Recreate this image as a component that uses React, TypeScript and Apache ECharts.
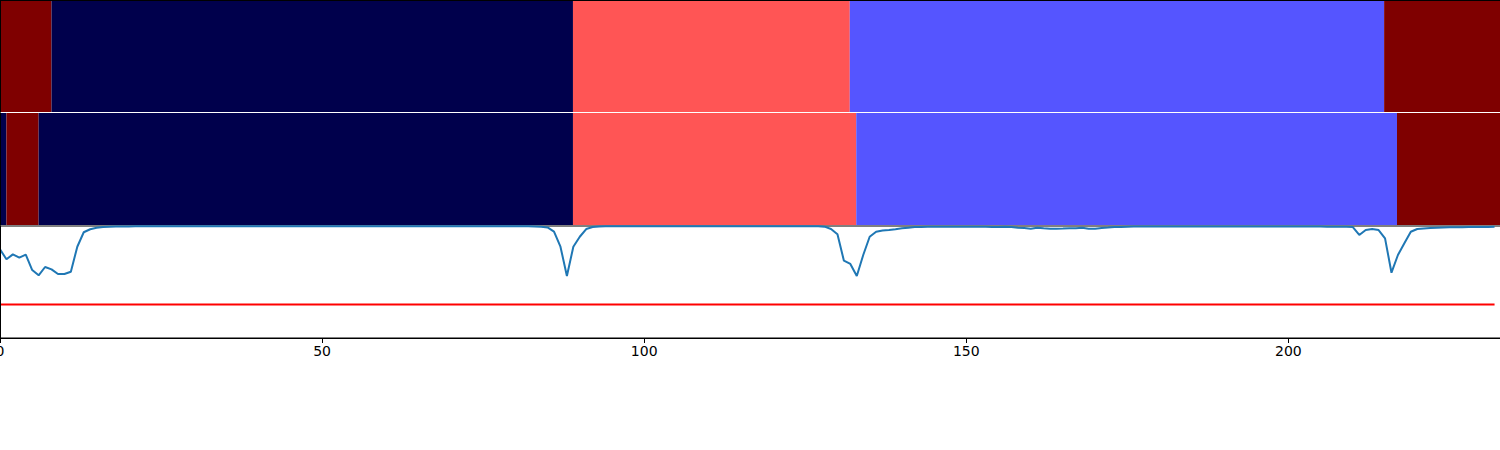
import React, { useEffect, useRef } from "react";
import * as echarts from "echarts";

// ---- data ----
const classColors = ["#00004c", "#5555ff", "#ff5555", "#7f0000"];

const row1Starts = [0, 8, 89, 132, 215];
const row1Ends = [8, 89, 132, 215, 233];
const row1Classes = [3, 0, 2, 1, 3];

const row2Starts = [0, 1, 6, 89, 133, 217];
const row2Ends = [1, 6, 89, 133, 217, 233];
const row2Classes = [0, 3, 0, 2, 1, 3];

const scoreValues = [
  0.792, 0.703, 0.747, 0.717, 0.744, 0.607, 0.56, 0.634, 0.613, 0.571,
  0.571, 0.592, 0.815, 0.944, 0.971, 0.985, 0.99, 0.993, 0.995, 0.996,
  0.996, 0.997, 0.997, 0.997, 0.997, 0.997, 0.997, 0.997, 0.997, 0.997,
  0.997, 0.998, 0.998, 0.998, 0.998, 0.998, 0.998, 0.998, 0.998, 0.998,
  0.998, 0.998, 0.998, 0.998, 0.998, 0.998, 0.998, 0.998, 0.998, 0.998,
  0.998, 0.998, 0.998, 0.998, 0.998, 0.998, 0.998, 0.998, 0.998, 0.998,
  0.998, 0.998, 0.998, 0.998, 0.998, 0.998, 0.998, 0.998, 0.998, 0.998,
  0.998, 0.998, 0.998, 0.998, 0.998, 0.998, 0.998, 0.998, 0.998, 0.998,
  0.998, 0.998, 0.997, 0.996, 0.994, 0.987, 0.95, 0.815, 0.554, 0.815,
  0.904, 0.973, 0.991, 0.996, 0.997, 0.998, 0.998, 0.998, 0.998, 0.998,
  0.998, 0.998, 0.998, 0.998, 0.998, 0.998, 0.998, 0.998, 0.998, 0.998,
  0.998, 0.998, 0.998, 0.998, 0.998, 0.998, 0.998, 0.998, 0.998, 0.998,
  0.998, 0.998, 0.998, 0.998, 0.998, 0.998, 0.998, 0.997, 0.994, 0.973,
  0.926, 0.69, 0.661, 0.554, 0.741, 0.904, 0.949, 0.96, 0.964, 0.971,
  0.979, 0.985, 0.99, 0.992, 0.993, 0.994, 0.994, 0.994, 0.994, 0.994,
  0.994, 0.994, 0.993, 0.993, 0.992, 0.992, 0.993, 0.99, 0.985, 0.982,
  0.975, 0.985, 0.98, 0.976, 0.975, 0.977, 0.98, 0.98, 0.984, 0.975,
  0.976, 0.983, 0.986, 0.99, 0.992, 0.994, 0.995, 0.995, 0.995, 0.995,
  0.996, 0.996, 0.996, 0.996, 0.996, 0.996, 0.996, 0.996, 0.996, 0.996,
  0.996, 0.996, 0.996, 0.996, 0.996, 0.996, 0.996, 0.996, 0.996, 0.996,
  0.996, 0.996, 0.996, 0.995, 0.995, 0.995, 0.994, 0.994, 0.994, 0.993,
  0.991, 0.92, 0.964, 0.973, 0.964, 0.89, 0.583, 0.741, 0.846, 0.949,
  0.973, 0.978, 0.982, 0.985, 0.987, 0.988, 0.988, 0.989, 0.99, 0.991,
  0.992, 0.992, 0.993,
];

const threshold = 0.3;
const xMin = 0;
const xMax = 233;
const xTickStep = 50;

function segData(starts: number[], ends: number[], classes: number[]) {
  return starts.map((s, i) => [s, ends[i], classes[i]]);
}

function renderSegment(_params: any, api: any) {
  const s = api.value(0);
  const e = api.value(1);
  const c = api.value(2);
  const p0 = api.coord([s, 1]);
  const p1 = api.coord([e, 0]);
  return {
    type: "rect",
    shape: { x: p0[0], y: p0[1], width: p1[0] - p0[0], height: p1[1] - p0[1] },
    style: { fill: classColors[c] },
  };
}

export default function App() {
  const ref = useRef<HTMLDivElement>(null);

  useEffect(() => {
    if (!ref.current) return;
    const chart = echarts.init(ref.current, undefined, { renderer: "svg" });
    const hiddenX = {
      type: "value",
      min: xMin,
      max: xMax,
      axisLabel: { show: false },
      axisTick: { show: false },
      splitLine: { show: false },
    };
    const lineLast = scoreValues.length - 1;
    chart.setOption({
      animation: false,
      backgroundColor: "#ffffff",
      grid: [
        { left: 0, top: 0, width: 1500, height: 112, outerBoundsMode: "none", containLabel: false },
        { left: 0, top: 113, width: 1500, height: 112, outerBoundsMode: "none", containLabel: false },
        {
          left: 0,
          top: 226,
          width: 1501,
          height: 112,
          show: true,
          borderColor: "#000",
          borderWidth: 1,
          backgroundColor: "transparent",
          outerBoundsMode: "none",
          containLabel: false,
        },
      ],
      xAxis: [
        {
          ...hiddenX,
          gridIndex: 0,
          position: "top",
          z: 5,
          axisLine: { show: true, onZero: false, lineStyle: { color: "#000", width: 1 } },
        },
        { ...hiddenX, gridIndex: 1, axisLine: { show: false } },
        {
          type: "value",
          gridIndex: 2,
          min: xMin,
          max: xMax,
          interval: xTickStep,
          position: "bottom",
          z: 5,
          axisLine: { show: true, onZero: false, lineStyle: { color: "#000", width: 1 } },
          axisTick: { show: true, length: 5, lineStyle: { color: "#000", width: 1 } },
          axisLabel: {
            show: true,
            color: "#000",
            fontSize: 14,
            fontFamily: "DejaVu Sans",
            margin: 6,
            showMaxLabel: false,
            formatter: (v: number) => (v % xTickStep === 0 ? String(v) : ""),
          },
          splitLine: { show: false },
        },
      ],
      yAxis: [0, 1, 2].map((g) => ({
        type: "value",
        gridIndex: g,
        min: 0,
        max: 1,
        z: 5,
        axisLine: { show: true, onZero: false, lineStyle: { color: "#000", width: 1 } },
        axisTick: { show: false },
        axisLabel: { show: false },
        splitLine: { show: false },
      })),
      series: [
        {
          type: "custom",
          xAxisIndex: 0,
          yAxisIndex: 0,
          z: 1,
          renderItem: renderSegment,
          data: segData(row1Starts, row1Ends, row1Classes),
        },
        {
          type: "custom",
          xAxisIndex: 1,
          yAxisIndex: 1,
          z: 1,
          renderItem: renderSegment,
          data: segData(row2Starts, row2Ends, row2Classes),
        },
        {
          type: "line",
          xAxisIndex: 2,
          yAxisIndex: 2,
          showSymbol: false,
          symbol: "none",
          lineStyle: { color: "#1f77b4", width: 2 },
          data: scoreValues.map((v, i) => [i, v]),
        },
        {
          type: "line",
          xAxisIndex: 2,
          yAxisIndex: 2,
          showSymbol: false,
          symbol: "none",
          lineStyle: { color: "#ff0000", width: 2 },
          data: [
            [0, threshold],
            [lineLast, threshold],
          ],
        },
      ],
    });
    return () => chart.dispose();
  }, []);

  return (
    <div
      ref={ref}
      style={{ position: "fixed", left: 0, top: 0, width: 1500, height: 450, background: "#fff" }}
    />
  );
}
